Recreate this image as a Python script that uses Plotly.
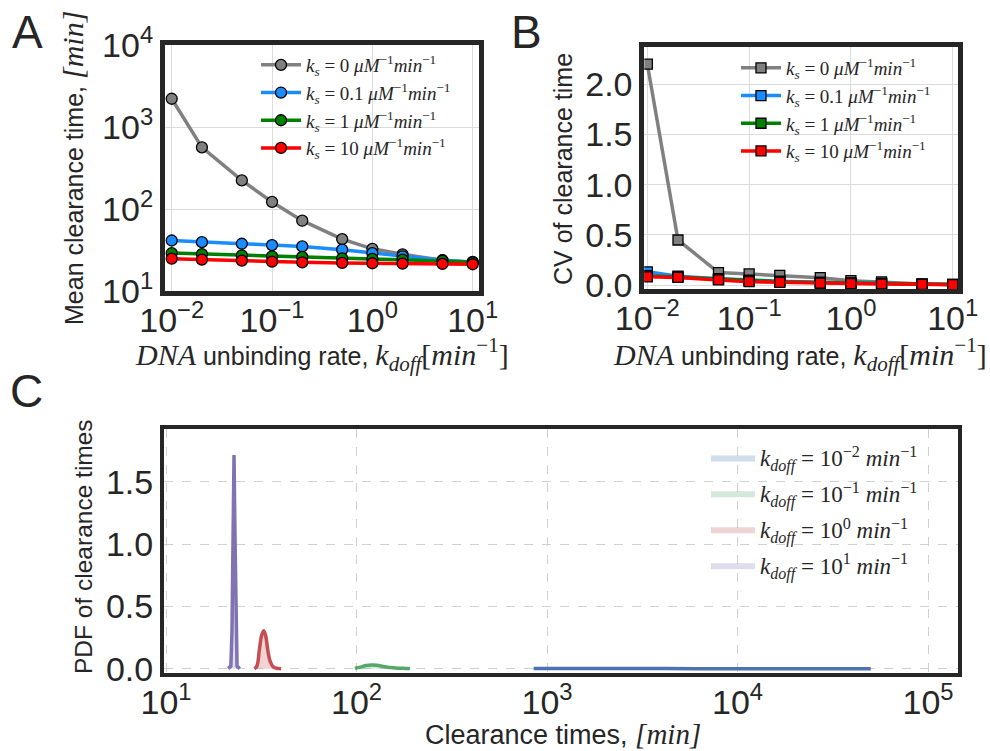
import plotly.graph_objects as go

# ---------------- data ----------------
kdoff = [0.01, 0.02, 0.05, 0.1, 0.2, 0.5, 1, 2, 5, 10]
ks_values = ["0", "0.1", "1", "10"]

mean_ks0 = [2210, 565, 223, 122, 72, 43, 32.7, 28.0, 23.7, 22.6]
mean_ks01 = [41.3, 39.4, 37.7, 36.3, 35.0, 31.9, 29.0, 26.5, 23.7, 22.4]
mean_ks1 = [29.0, 28.2, 27.2, 26.5, 26.0, 25.0, 24.6, 24.1, 23.3, 22.4]
mean_ks10 = [24.8, 24.1, 23.5, 22.8, 22.4, 22.0, 21.8, 21.6, 21.4, 21.2]

cv_ks0 = [2.20, 0.45, 0.125, 0.112, 0.098, 0.075, 0.045, 0.032, 0.012, 0.009]
cv_ks01 = [0.133, 0.090, 0.065, 0.050, 0.040, 0.030, 0.023, 0.017, 0.010, 0.007]
cv_ks1 = [0.095, 0.082, 0.058, 0.045, 0.035, 0.026, 0.020, 0.015, 0.009, 0.006]
cv_ks10 = [0.083, 0.077, 0.052, 0.035, 0.028, 0.019, 0.015, 0.012, 0.009, 0.005]

pdf_labels = ["−2", "−1", "0", "1"]
pdf_t_001 = [850, 1500, 3000, 6000, 12000, 25000, 50000]
pdf_001 = [0.0004, 0.0003, 0.0002, 0.0001, 0.00005, 0.00002, 0.00001]
pdf_t_01 = [98, 105, 112, 120, 128, 138, 150, 165, 180, 191]
pdf_01 = [0.003, 0.012, 0.025, 0.030, 0.027, 0.018, 0.009, 0.004, 0.002, 0.001]
pdf_t_1 = [29.1, 30.0, 30.9, 31.8, 32.6, 33.4, 34.2, 35.2, 36.5, 38.0, 40.2]
pdf_1 = [0.0, 0.02, 0.15, 0.27, 0.305, 0.26, 0.15, 0.06, 0.015, 0.003, 0.0]
pdf_t_10 = [21.2, 21.9, 22.2, 22.45, 22.75, 23.05, 23.3, 23.6, 24.4]
pdf_10 = [0.0, 0.02, 0.3, 1.0, 1.715, 1.0, 0.3, 0.02, 0.0]

ab_tickvals = [0.01, 0.1, 1, 10]
ab_ticktext = ["10<sup>−2</sup>", "10<sup>−1</sup>", "10<sup>0</sup>", "10<sup>1</sup>"]
a_ytickvals = [10, 100, 1000, 10000]
a_yticktext = ["10<sup>1</sup>", "10<sup>2</sup>", "10<sup>3</sup>", "10<sup>4</sup>"]
b_ytickvals = [0, 0.5, 1.0, 1.5, 2.0]
b_yticktext = ["0.0", "0.5", "1.0", "1.5", "2.0"]
c_tickvals = [10, 100, 1000, 10000, 100000]
c_ticktext = ["10<sup>1</sup>", "10<sup>2</sup>", "10<sup>3</sup>", "10<sup>4</sup>", "10<sup>5</sup>"]
c_ytickvals = [0, 0.5, 1.0, 1.5]
c_yticktext = ["0.0", "0.5", "1.0", "1.5"]

# ---------------- styling ----------------
W, H = 990, 751
SANS = "Liberation Sans"
SERIF = "Liberation Serif"
INK = "#262626"
ks_colors = ["#808080", "#1a8cff", "#008000", "#ff0000"]
pdf_colors = ["#4C72B0", "#55A868", "#C44E52", "#8172B2"]
pdf_fills = ["rgba(76,114,176,0.25)", "rgba(85,168,104,0.25)",
             "rgba(196,78,82,0.25)", "rgba(129,114,178,0.25)"]


def fx(p):
    return p / W


def fy(p):
    return 1 - p / H


def ks_label(v):
    return ("<i>k</i><sub><i>s</i></sub> = " + v +
            " <i>μM</i><sup>−1</sup><i>min</i><sup>−1</sup>")


fig = go.Figure()

means = [mean_ks0, mean_ks01, mean_ks1, mean_ks10]
cvs = [cv_ks0, cv_ks01, cv_ks1, cv_ks10]

for i, (v, m) in enumerate(zip(ks_values, means)):
    fig.add_trace(go.Scatter(
        x=kdoff, y=m, mode="lines+markers", name=ks_label(v),
        line=dict(color=ks_colors[i], width=3.5),
        marker=dict(symbol="circle", size=11, color=ks_colors[i],
                    line=dict(color="black", width=1.3)),
        xaxis="x", yaxis="y", legend="legend", legendgroup="a%d" % i))

for i, (v, c) in enumerate(zip(ks_values, cvs)):
    fig.add_trace(go.Scatter(
        x=kdoff, y=c, mode="lines+markers", name=ks_label(v),
        line=dict(color=ks_colors[i], width=3.5),
        marker=dict(symbol="square", size=10, color=ks_colors[i],
                    line=dict(color="black", width=1.3)),
        xaxis="x2", yaxis="y2", legend="legend2", legendgroup="b%d" % i))

pdf_ts = [pdf_t_001, pdf_t_01, pdf_t_1, pdf_t_10]
pdf_ys = [pdf_001, pdf_01, pdf_1, pdf_10]
shapes_line = ["spline", "spline", "spline", "linear"]
for i in range(4):
    lab = ("<i>k</i><sub><i>doff</i></sub> = 10<sup>" + pdf_labels[i] +
           "</sup> <i>min</i><sup>−1</sup>")
    fig.add_trace(go.Scatter(
        x=pdf_ts[i], y=pdf_ys[i], mode="lines", name=lab,
        fill="tozeroy", fillcolor=pdf_fills[i],
        line=dict(width=0, shape=shapes_line[i]),
        xaxis="x3", yaxis="y3", legend="legend3", legendgroup="c%d" % i))
    fig.add_trace(go.Scatter(
        x=pdf_ts[i], y=pdf_ys[i], mode="lines", showlegend=False,
        line=dict(color=pdf_colors[i], width=3.5, shape=shapes_line[i]),
        xaxis="x3", yaxis="y3"))

tickfont = dict(family=SANS, size=34, color=INK)
common = dict(showline=True, mirror=True, linecolor=INK, ticks="",
              tickfont=tickfont, zeroline=False, showgrid=True,
              automargin=False)

fig.update_layout(
    width=W, height=H,
    margin=dict(l=0, r=0, t=0, b=0, pad=0, autoexpand=False),
    paper_bgcolor="white", plot_bgcolor="white", showlegend=True,
    xaxis=dict(type="log", domain=[fx(165), fx(479)], range=[-2.067, 1.063],
               anchor="y", tickvals=ab_tickvals, ticktext=ab_ticktext,
               ticklabelstandoff=-5,
               linewidth=5, gridcolor="#dcdcdc", gridwidth=1, **common),
    yaxis=dict(type="log", domain=[fy(291), fy(45)], range=[1, 4],
               anchor="x", tickvals=a_ytickvals, ticktext=a_yticktext,
               linewidth=5, gridcolor="#dcdcdc", gridwidth=1, **common),
    xaxis2=dict(type="log", domain=[fx(644.3), fx(958.3)], range=[-2.03, 1.055],
                anchor="y2", tickvals=ab_tickvals, ticktext=ab_ticktext,
                ticklabelstandoff=-5,
                linewidth=5, gridcolor="#dcdcdc", gridwidth=1, **common),
    yaxis2=dict(domain=[fy(289.3), fy(47.3)], range=[-0.041, 2.368],
                anchor="x2", tickvals=b_ytickvals, ticktext=b_yticktext,
                linewidth=5, gridcolor="#dcdcdc", gridwidth=1, **common),
    xaxis3=dict(type="log", domain=[fx(164), fx(958)], range=[0.9895, 5.157],
                anchor="y3", tickvals=c_tickvals, ticktext=c_ticktext,
                ticklabelstandoff=-4,
                linewidth=4, gridcolor="#d0d0d0", gridwidth=1, griddash="dash",
                **common),
    yaxis3=dict(domain=[fy(673), fy(429)], range=[-0.035, 1.923],
                anchor="x3", tickvals=c_ytickvals, ticktext=c_yticktext,
                linewidth=4, gridcolor="#d0d0d0", gridwidth=1, griddash="dash",
                **common),
    legend=dict(x=fx(256), y=fy(46), xanchor="left", yanchor="top",
                bgcolor="rgba(0,0,0,0)", itemwidth=40, tracegroupgap=0,
                font=dict(family=SERIF, size=19, color=INK)),
    legend2=dict(x=fx(736), y=fy(49), xanchor="left", yanchor="top",
                 bgcolor="rgba(0,0,0,0)", itemwidth=40, tracegroupgap=0,
                 font=dict(family=SERIF, size=19, color=INK)),
    legend3=dict(x=fx(706), y=fy(436), xanchor="left", yanchor="top",
                 bgcolor="rgba(0,0,0,0)", itemwidth=44, tracegroupgap=3,
                 font=dict(family=SERIF, size=23, color=INK)),
)

ser = '<span style="font-family:%s;font-size:30px">' % SERIF
ser_c = '<span style="font-family:%s;font-size:29px">' % SERIF
xlab = (ser + "<i>DNA</i></span> unbinding rate, " + ser +
        "<i>k</i><sub><i>doff</i></sub>[<i>min</i><sup>−1</sup>]</span>")
annots = [
    dict(text="A", x=fx(27), y=fy(32), size=46, angle=0),
    dict(text="B", x=fx(526), y=fy(32), size=46, angle=0),
    dict(text="C", x=fx(26), y=fy(391), size=46, angle=0),
    dict(text="Mean clearance time, " + ser + "<i>[min]</i></span>",
         x=fx(73), y=fy(168), size=25, angle=-90),
    dict(text="CV of clearance time", x=fx(563), y=fy(169), size=25, angle=-90),
    dict(text="PDF of clearance times", x=fx(83), y=fy(547), size=24.5, angle=-90),
    dict(text=xlab, x=fx(322), y=fy(354), size=25, angle=0),
    dict(text=xlab, x=fx(800), y=fy(354), size=25, angle=0),
    dict(text="Clearance times, " + ser_c + "<i>[min]</i></span>",
         x=fx(563), y=fy(734), size=27, angle=0),
]
for a in annots:
    fig.add_annotation(text=a["text"], x=a["x"], y=a["y"], xref="paper",
                       yref="paper", showarrow=False, xanchor="center",
                       yanchor="middle", textangle=a["angle"],
                       font=dict(family=SANS, size=a["size"], color=INK))

fig.write_html("out.html")
